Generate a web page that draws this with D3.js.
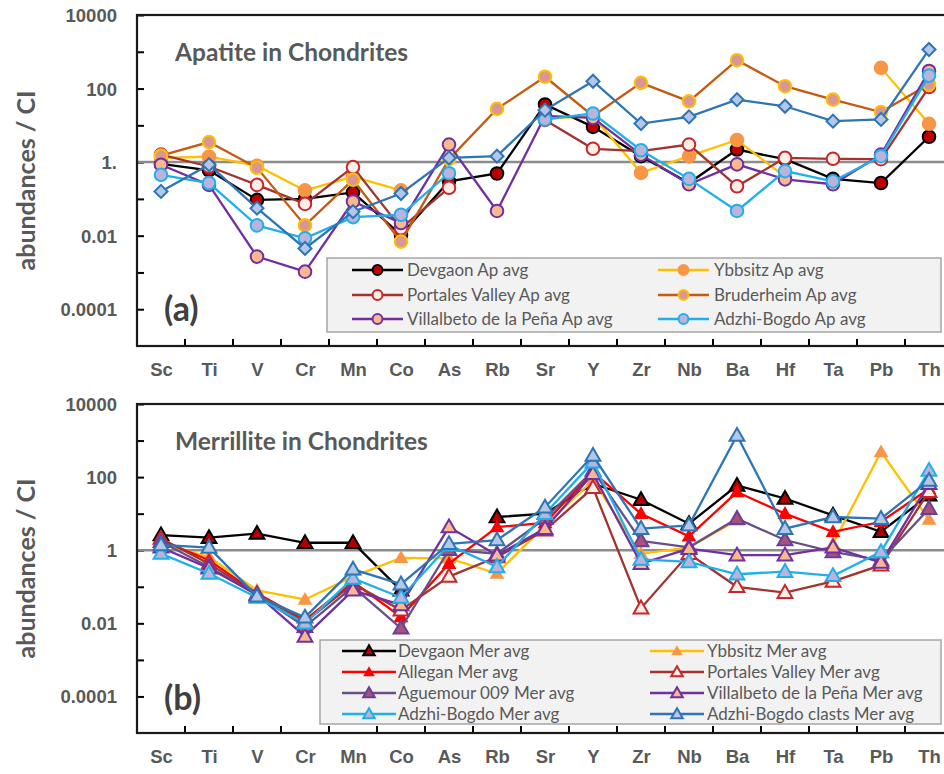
<!DOCTYPE html>
<html lang="en">
<head>
<meta charset="UTF-8">
<title>Apatite and merrillite in chondrites</title>
<style>
  body { margin: 0; background: #fff; }
  svg { display: block; font-family: Lato, "Open Sans", sans-serif; }
  .ylab, .xlab { font-weight: bold; fill: #595959; }
  .ylab { font-size: 18.5px; }
  .xlab { font-size: 18.5px; }
  .ptitle { font-size: 24.5px; font-weight: bold; fill: #595959; }
  .tag { font-size: 34px; font-weight: bold; fill: #404040; }
  .axtitle { font-size: 25px; font-weight: bold; fill: #595959; }
  .legtext { font-size: 17px; fill: #595959; }
</style>
</head>
<body>
<script src="https://d3js.org/d3.v7.min.js"></script>
<script>
// element order on the x axis
const elements = ["Sc", "Ti", "V", "Cr", "Mn", "Co", "As", "Rb", "Sr", "Y", "Zr", "Nb", "Ba", "Hf", "Ta", "Pb", "Th"];

// (a) apatite, CI-normalised
const apDevgaon    = [0.9, 0.6, 0.094, 0.1, 0.15, 0.0105, 0.3, 0.49, 37, 9.1, 1.45, 0.27, 2.2, 1.2, 0.35, 0.27, 4.9];
const apYbbsitz    = [1.3, 1.4, 0.8, 0.17, 0.4, 0.17, null, null, 15, 18, 0.51, 1.45, 4.0, 0.4, null, 365, 11];
const apPortales   = [1.6, 0.76, 0.24, 0.073, 0.73, 0.016, 0.2, null, 14, 2.3, 2.0, 3.0, 0.22, 1.3, 1.23, 1.2, 110];
const apBruderheim = [1.5, 3.5, 0.7, 0.019, 0.33, 0.0069, 1.2, 28, 209, 18, 143, 45, 590, 116, 50, 23, 130];
const apVillalbeto = [0.85, 0.24, 0.0027, 0.00105, 0.085, 0.022, 3.0, 0.047, 18, 16, 1.6, 0.25, 0.87, 0.34, 0.25, 1.6, 300];
const apAdzhi      = [0.45, 0.27, 0.019, 0.0085, 0.032, 0.037, 0.5, null, 14.5, 21, 2.1, 0.35, 0.047, 0.57, 0.3, 1.45, 225];
const apAdzhiClast = [0.16, 0.85, 0.056, 0.0045, 0.045, 0.14, 1.3, 1.45, 26, 158, 11.2, 17, 50, 33, 13, 14.5, 1150];

// (b) merrillite, CI-normalised
const merDevgaon    = [2.6, 2.2, 2.85, 1.6, 1.6, 0.08, null, 8.1, 10, 66, 24, 5.3, 59, 26, 9, 3.2, 32];
const merYbbsitz    = [1.5, 0.66, 0.08, 0.045, 0.19, 0.62, 0.6, 0.23, 4.8, 81, 0.8, 1.2, 6.6, null, 1.5, 485, 6.9];
const merAllegan    = [1.9, 0.53, 0.066, 0.0123, 0.137, 0.015, 0.43, 4.3, 5.6, 137, 10, 2.4, 39, 10, 3.2, 6, 48];
const merPortales   = [2.1, 0.43, 0.062, 0.011, 0.12, 0.023, 0.19, 0.65, 3.5, 51, 0.026, 0.8, 0.1, 0.069, 0.14, 0.39, 40];
const merAguemour   = [1.7, 0.35, 0.06, 0.0081, 0.1, 0.0073, 1.04, 0.8, 7.3, 152, 1.8, 1.2, 7.3, 1.9, 0.9, 0.53, 13.7];
const merVillalbeto = [1.2, 0.32, 0.062, 0.0044, 0.08, 0.032, 4.3, 0.73, 3.9, 123, 0.43, 1.1, 0.73, 0.73, 1.2, 0.46, 66];
const merAdzhi      = [0.81, 0.23, 0.051, 0.01, 0.17, 0.051, 1.37, 0.35, 10, 257, 0.56, 0.48, 0.22, 0.26, 0.2, 0.9, 152];
const merClasts     = [1.4, 1.18, 0.055, 0.0146, 0.3, 0.118, 1.5, 1.9, 15, 390, 3.9, 4.8, 1380, 3.9, 8.1, 7.3, 81];

const majorTicks = [1e4, 1e2, 1, 1e-2, 1e-4];
const minorTicks = [1e3, 1e1, 1e-1, 1e-3];

const width = 944, height = 774;
const left = 137, right = 953;

const svg = d3.select("body").append("svg")
  .attr("width", width)
  .attr("height", height);

const x = d3.scaleBand().domain(elements).range([left, right]);
const xc = el => x(el) + x.bandwidth() / 2;

// series styles (in drawing order)
const apSeries = [
  { name: "Devgaon Ap avg", values: apDevgaon, line: "#000", shape: "circle", fill: "#c00000", stroke: "#000" },
  { name: "Ybbsitz Ap avg", values: apYbbsitz, line: "#ffc000", shape: "circle", fill: "#f79646", stroke: "#f79646" },
  { name: "Portales Valley Ap avg", values: apPortales, line: "#a3332f", shape: "circle", fill: "#fdeee6", stroke: "#c8262b" },
  { name: "Bruderheim Ap avg", values: apBruderheim, line: "#c55a11", shape: "circle", fill: "#d99694", stroke: "#ffc000" },
  { name: "Villalbeto de la Peña Ap avg", values: apVillalbeto, line: "#7030a0", shape: "circle", fill: "#f8b98f", stroke: "#7030a0" },
  { name: "Adzhi-Bogdo Ap avg", values: apAdzhi, line: "#1fb0ea", shape: "circle", fill: "#bab4dc", stroke: "#1fb0ea" },
  { name: null, values: apAdzhiClast, line: "#2e75b6", shape: "diamond", fill: "#b4c7e7", stroke: "#2e75b6" }
];

const merSeries = [
  { name: "Devgaon Mer avg", values: merDevgaon, line: "#000", shape: "triangle", fill: "#b00000", stroke: "#000" },
  { name: "Ybbsitz Mer avg", values: merYbbsitz, line: "#ffc000", shape: "triangle", fill: "#f79646", stroke: "none" },
  { name: "Allegan Mer avg", values: merAllegan, line: "#ff0000", shape: "triangle", fill: "#ff0000", stroke: "none" },
  { name: "Portales Valley Mer avg", values: merPortales, line: "#a3332f", shape: "triangle", fill: "#fdeee6", stroke: "#c8262b" },
  { name: "Aguemour 009 Mer avg", values: merAguemour, line: "#67508a", shape: "triangle", fill: "#a6527a", stroke: "#6b3f98" },
  { name: "Villalbeto de la Peña Mer avg", values: merVillalbeto, line: "#7030a0", shape: "triangle", fill: "#f8b98f", stroke: "#7030a0" },
  { name: "Adzhi-Bogdo Mer avg", values: merAdzhi, line: "#1fb0ea", shape: "triangle", fill: "#bab4dc", stroke: "#1fb0ea" },
  { name: "Adzhi-Bogdo clasts Mer avg", values: merClasts, line: "#2e75b6", shape: "triangle", fill: "#b4c7e7", stroke: "#2e75b6" }
];

const panels = [
  {
    top: 15, bottom: 346, title: "Apatite in Chondrites", tag: "(a)", one: "1.", series: apSeries,
    legend: { x: 327, y: 258, w: 614, h: 74, rows: [270, 295, 319],
      cols: [{ lx: 352, tx: 407 }, { lx: 658, tx: 714 }], lw: 51,
      items: [["Devgaon Ap avg", "Portales Valley Ap avg", "Villalbeto de la Peña Ap avg"],
              ["Ybbsitz Ap avg", "Bruderheim Ap avg", "Adzhi-Bogdo Ap avg"]] }
  },
  {
    top: 404, bottom: 733, title: "Merrillite in Chondrites", tag: "(b)", one: "1", series: merSeries,
    legend: { x: 320, y: 640, w: 621, h: 84, rows: [651, 672, 693, 714],
      cols: [{ lx: 342, tx: 398 }, { lx: 650, tx: 707 }], lw: 54,
      items: [["Devgaon Mer avg", "Allegan Mer avg", "Aguemour 009 Mer avg", "Adzhi-Bogdo Mer avg"],
              ["Ybbsitz Mer avg", "Portales Valley Mer avg", "Villalbeto de la Peña Mer avg", "Adzhi-Bogdo clasts Mer avg"]] }
  }
];

function marker(sel, s, cx, cy, small) {
  const k = small ? 0.78 : 1;
  if (s.shape === "circle") {
    sel.append("circle").attr("cx", cx).attr("cy", cy).attr("r", 6.3 * k)
      .attr("fill", s.fill).attr("stroke", s.stroke).attr("stroke-width", 2);
  } else if (s.shape === "diamond") {
    sel.append("path").attr("d", d3.symbol(d3.symbolSquare, 85 * k * k)())
      .attr("transform", `translate(${cx},${cy}) rotate(45)`)
      .attr("fill", s.fill).attr("stroke", s.stroke).attr("stroke-width", 2);
  } else {
    sel.append("path").attr("d", d3.symbol(d3.symbolTriangle, 95 * k * k)())
      .attr("transform", `translate(${cx},${cy + 1})`)
      .attr("fill", s.fill).attr("stroke", s.stroke).attr("stroke-width", 2);
  }
}

panels.forEach(p => {
  const y = d3.scaleLog().domain([1e-5, 1e4]).range([p.bottom, p.top]);
  const g = svg.append("g");

  // y-axis with inside ticks
  const yAxis = g.append("g").attr("transform", `translate(${left},0)`)
    .call(d3.axisLeft(y).tickValues(majorTicks).tickSize(-7).tickPadding(20)
      .tickFormat(d => d === 1 ? p.one : String(d)));
  yAxis.selectAll("text").attr("class", "ylab").attr("dy", "0.35em");
  g.append("g").attr("transform", `translate(${left},0)`)
    .call(d3.axisLeft(y).tickValues(minorTicks).tickSize(-7).tickFormat(""));

  // x-axis: labels at category centres, ticks on category boundaries
  const xAxis = g.append("g").attr("transform", `translate(0,${p.bottom})`)
    .call(d3.axisBottom(d3.scalePoint().domain(elements).range([xc(elements[0]), xc(elements[16])]))
      .tickSize(0).tickPadding(17));
  xAxis.selectAll("text").attr("class", "xlab");
  g.selectAll(".xtick").data(elements.slice(1)).join("line")
    .attr("x1", d => x(d)).attr("x2", d => x(d))
    .attr("y1", p.bottom).attr("y2", p.bottom - 7)
    .attr("stroke", "#000").attr("stroke-width", 2);
  g.selectAll(".domain").remove();
  g.selectAll(".tick line").attr("stroke", "#000").attr("stroke-width", 2);

  // reference line at CI = 1
  g.append("line").attr("x1", left).attr("x2", right)
    .attr("y1", y(1)).attr("y2", y(1))
    .attr("stroke", "#8c8c8c").attr("stroke-width", 2.5);

  // series
  const line = d3.line().defined(d => d.v != null).x(d => xc(d.el)).y(d => y(d.v));
  p.series.forEach(s => {
    const pts = elements.map((el, i) => ({ el, v: s.values[i] }));
    const sg = g.append("g");
    sg.append("path").datum(pts).attr("d", line)
      .attr("fill", "none").attr("stroke", s.line).attr("stroke-width", 2.3);
    pts.filter(d => d.v != null).forEach(d => marker(sg, s, xc(d.el), y(d.v), false));
  });

  // frame
  g.append("rect").attr("x", left).attr("y", p.top)
    .attr("width", right - left).attr("height", p.bottom - p.top)
    .attr("fill", "none").attr("stroke", "#1a1a1a").attr("stroke-width", 2.2);

  g.append("text").attr("class", "ptitle").attr("x", 175).attr("y", p.top + 37)
    .attr("dy", "0.35em").text(p.title);
  g.append("text").attr("class", "tag").attr("x", 164).attr("y", p.top + 294)
    .attr("dy", "0.35em").text(p.tag);
  g.append("text").attr("class", "axtitle")
    .attr("transform", `translate(26,${(p.top + p.bottom) / 2}) rotate(-90)`)
    .attr("text-anchor", "middle").attr("dy", "0.35em").text("abundances / CI");

  // legend
  const L = p.legend;
  const lg = g.append("g");
  lg.append("rect").attr("x", L.x).attr("y", L.y).attr("width", L.w).attr("height", L.h)
    .attr("fill", "#f2f2f2").attr("stroke", "#a6a6a6").attr("stroke-width", 1.5);
  L.items.forEach((col, ci) => {
    col.forEach((name, ri) => {
      const s = p.series.find(d => d.name === name);
      const c = L.cols[ci], ry = L.rows[ri];
      lg.append("line").attr("x1", c.lx).attr("x2", c.lx + L.lw).attr("y1", ry).attr("y2", ry)
        .attr("stroke", s.line).attr("stroke-width", 2.3);
      marker(lg, s, c.lx + L.lw / 2, ry, true);
      lg.append("text").attr("class", "legtext").attr("x", c.tx).attr("y", ry)
        .attr("dy", "0.35em").text(name);
    });
  });
});
</script>
</body>
</html>
